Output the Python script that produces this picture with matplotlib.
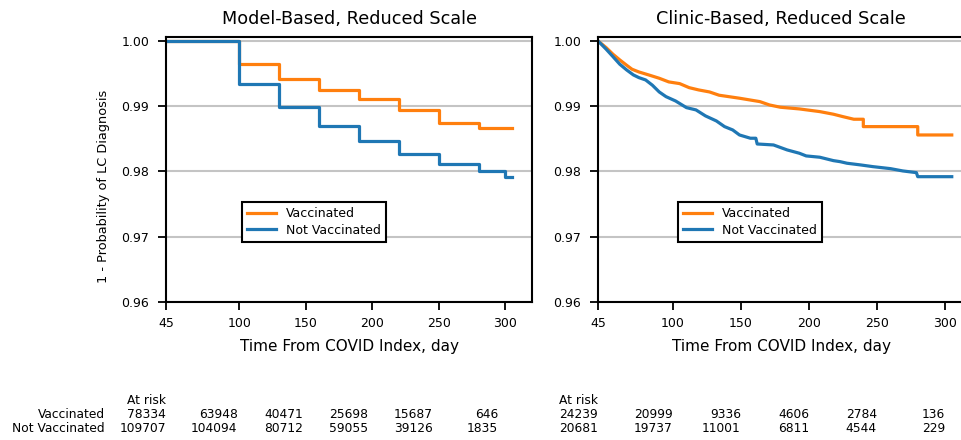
import matplotlib
matplotlib.use("Agg")
import matplotlib.pyplot as plt
from matplotlib.transforms import blended_transform_factory

# model-based panel (step curves)
model_days_vacc = [45, 100, 130, 160, 190, 220, 250, 280, 305]
model_surv_vacc = [1.0, 0.9965, 0.9941, 0.9925, 0.9911, 0.9894, 0.9875, 0.9867, 0.9867]
model_days_unvacc = [45, 100, 130, 160, 190, 220, 250, 280, 300, 305]
model_surv_unvacc = [1.0, 0.9934, 0.9898, 0.9870, 0.9847, 0.9826, 0.9812, 0.9801, 0.9791, 0.9791]

# clinic-based panel
clinic_days_vacc = [45, 51, 56, 61, 66, 70, 75, 83, 90, 97, 105, 112, 119, 127, 134,
                    149, 164, 171, 179, 193, 208, 218, 225, 233, 240, 240, 280, 280, 305]
clinic_surv_vacc = [1.0, 0.99897, 0.99796, 0.99709, 0.99628, 0.99566, 0.99525, 0.99474,
                    0.99428, 0.99372, 0.99346, 0.99284, 0.99249, 0.99218, 0.99168,
                    0.99122, 0.99070, 0.99019, 0.98984, 0.98958, 0.98917, 0.98877,
                    0.98840, 0.98800, 0.98800, 0.98687, 0.98687, 0.98559, 0.98559]
clinic_days_unvacc = [45, 51, 56, 61, 66, 71, 75, 80, 85, 90, 95, 102, 110, 117, 124,
                      132, 138, 144, 149, 157, 161, 162, 174, 184, 193, 198, 208, 218,
                      223, 228, 238, 247, 260, 269, 279, 280, 305]
clinic_surv_unvacc = [1.0, 0.99873, 0.99759, 0.99643, 0.99556, 0.99479, 0.99438, 0.99402,
                      0.99321, 0.99218, 0.99146, 0.99080, 0.98978, 0.98943, 0.98851,
                      0.98774, 0.98687, 0.98636, 0.98559, 0.98509, 0.98509, 0.98421,
                      0.98406, 0.98330, 0.98279, 0.98238, 0.98218, 0.98166, 0.98150,
                      0.98126, 0.98100, 0.98074, 0.98043, 0.98008, 0.97982, 0.97920,
                      0.97920]

risk_ticks = [45, 100, 150, 200, 250, 300]
model_risk_vacc = [78334, 63948, 40471, 25698, 15687, 646]
model_risk_unvacc = [109707, 104094, 80712, 59055, 39126, 1835]
clinic_risk_vacc = [24239, 20999, 9336, 4606, 2784, 136]
clinic_risk_unvacc = [20681, 19737, 11001, 6811, 4544, 229]

labels = ["Vaccinated", "Not Vaccinated"]
colors = ["#ff7f0e", "#1f77b4"]
yticks = [1.00, 0.99, 0.98, 0.97, 0.96]

fig = plt.figure(figsize=(9.61, 4.40), dpi=100)
W, H = 961, 440


def px_axes(x0, y0, x1, y1):
    return fig.add_axes([x0 / W, 1 - y1 / H, (x1 - x0) / W, (y1 - y0) / H])


ax1 = px_axes(166, 37, 532, 302)
ax2 = px_axes(598, 37, 964, 302)

panels = [
    (ax1, "Model-Based, Reduced Scale", (model_days_vacc, model_surv_vacc),
     (model_days_unvacc, model_surv_unvacc), (45, 320), 0.2077, "steps-post"),
    (ax2, "Clinic-Based, Reduced Scale", (clinic_days_vacc, clinic_surv_vacc),
     (clinic_days_unvacc, clinic_surv_unvacc), (45, 314), 0.2186, "default"),
]

for ax, title, vacc, unvacc, xlim, legx, ds in panels:
    for (d, s), lab, col in zip([vacc, unvacc], labels, colors):
        ax.plot(d, s, drawstyle=ds, color=col, lw=2.3, label=lab)
    ax.set_xlim(*xlim)
    ax.set_ylim(0.96, 1.0006)
    ax.set_yticks(yticks)
    ax.set_yticklabels([f"{v:.2f}" for v in yticks])
    ax.set_xticks(risk_ticks)
    ax.yaxis.grid(True, color="#c4c4c4", lw=1.5)
    ax.set_axisbelow(True)
    ax.tick_params(labelsize=9, width=1.3, length=6)
    ax.tick_params(axis="y", pad=6)
    ax.tick_params(axis="x", pad=5)
    for sp in ax.spines.values():
        sp.set_linewidth(1.5)
    ax.set_title(title, fontsize=12.7, pad=9)
    ax.set_xlabel("Time From COVID Index, day", fontsize=11, labelpad=6)
    leg = ax.legend(loc="upper left", bbox_to_anchor=(legx, 0.377), borderaxespad=0,
                    fontsize=9, fancybox=False, framealpha=1, edgecolor="black",
                    handlelength=2.3, borderpad=0.4, labelspacing=0.3)
    leg.get_frame().set_linewidth(1.5)

ax1.set_ylabel("1 - Probability of LC Diagnosis", fontsize=9.3)
ax1.yaxis.set_label_coords(-0.153, 0.438)

# at-risk tables
row_y = [1 - 400 / H, 1 - 414 / H, 1 - 428 / H]
risk_tables = [
    (ax1, (45, 326), model_risk_vacc, model_risk_unvacc),
    (ax2, (45, 314), clinic_risk_vacc, clinic_risk_unvacc),
]
for ax, rlim, rv, ru in risk_tables:
    helper = fig.add_axes(ax.get_position(), frameon=False)
    helper.set_xlim(*rlim)
    helper.set_xticks([])
    helper.set_yticks([])
    tr = blended_transform_factory(helper.transData, fig.transFigure)
    helper.text(risk_ticks[0], row_y[0], "At risk", transform=tr, ha="right",
                va="center", fontsize=8.8)
    for t, a, b in zip(risk_ticks, rv, ru):
        helper.text(t, row_y[1], str(a), transform=tr, ha="right", va="center", fontsize=8.8)
        helper.text(t, row_y[2], str(b), transform=tr, ha="right", va="center", fontsize=8.8)

fig.text(105 / W, row_y[1], labels[0], ha="right", va="center", fontsize=8.8)
fig.text(105 / W, row_y[2], labels[1], ha="right", va="center", fontsize=8.8)

fig.savefig("out.png", dpi=100)
